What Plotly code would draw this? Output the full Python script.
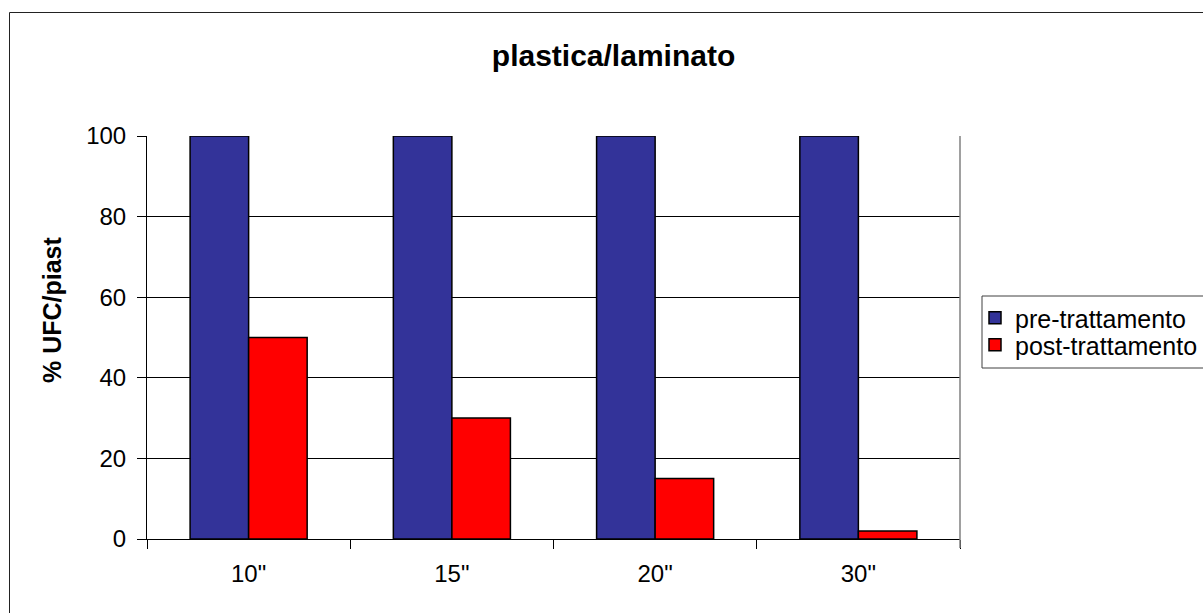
import plotly.graph_objects as go

# Data
categories = ['10"', '15"', '20"', '30"']
pre_trattamento = [100, 100, 100, 100]
post_trattamento = [50, 30, 15, 2]
y_ticks = [0, 20, 40, 60, 80, 100]

W, H = 1203, 613
# plot area in pixels
L, R, T, B = 147, 960, 136, 539
pw, ph = R - L, B - T


def px(x):
    return (x - L) / pw


def py(y):
    return (B - y) / ph


FONT = "Liberation Sans, Arial, sans-serif"
LEG_FONT = dict(family=FONT, size=25, color="black")

fig = go.Figure()
fig.add_trace(go.Bar(
    x=categories, y=pre_trattamento, name="pre-trattamento",
    marker=dict(color="#333399", line=dict(color="black", width=1.5)),
    legend="legend",
))
fig.add_trace(go.Bar(
    x=categories, y=post_trattamento, name="post-trattamento",
    marker=dict(color="#FF0000", line=dict(color="black", width=1.5)),
    legend="legend2",
))

fig.update_layout(
    width=W, height=H,
    margin=dict(l=L, r=W - R, t=T, b=H - B, autoexpand=False),
    paper_bgcolor="white", plot_bgcolor="white",
    barmode="group", bargap=0.424, bargroupgap=0,
    font=dict(family=FONT, size=24, color="black"),
    title=dict(text="<b>plastica/laminato</b>", x=0.51, xref="container",
               xanchor="center", y=1 - 55 / H, yref="container", yanchor="middle",
               font=dict(family=FONT, size=30, color="black")),
    showlegend=True,
    legend=dict(x=px(975), xanchor="left", y=py(318), yanchor="middle",
                bgcolor="rgba(0,0,0,0)", borderwidth=0, font=LEG_FONT),
    legend2=dict(x=px(975), xanchor="left", y=py(345), yanchor="middle",
                 bgcolor="rgba(0,0,0,0)", borderwidth=0, font=LEG_FONT),
    xaxis=dict(showline=True, linecolor="black", linewidth=1,
               ticks="outside", tickson="boundaries", ticklen=9,
               tickcolor="black", tickwidth=1, showgrid=False,
               ticklabelstandoff=13,
               tickfont=dict(family=FONT, size=24, color="black")),
    yaxis=dict(range=[0, 100], tickvals=y_ticks, showline=True,
               linecolor="black", linewidth=1, ticks="outside", ticklen=9,
               tickcolor="black", tickwidth=1, showgrid=True,
               gridcolor="black", gridwidth=1, zeroline=False,
               ticklabelstandoff=6,
               tickfont=dict(family=FONT, size=24, color="black")),
    shapes=[
        # chart border
        dict(type="rect", xref="paper", yref="paper",
             x0=px(9.5), x1=px(1215), y0=py(625), y1=py(12.5),
             line=dict(color="#222222", width=1), layer="below"),
        # plot area right edge
        dict(type="line", xref="paper", yref="paper",
             x0=1, x1=1, y0=py(548), y1=1,
             line=dict(color="#808080", width=1.5)),
        # legend frame
        dict(type="rect", xref="paper", yref="paper",
             x0=px(982), x1=px(1215), y0=py(368), y1=py(296),
             line=dict(color="#404040", width=1)),
    ],
    annotations=[
        dict(text="<b>% UFC/piast</b>", xref="paper", yref="paper",
             x=px(52), y=py(310), textangle=-90, showarrow=False,
             xanchor="center", yanchor="middle",
             font=dict(family=FONT, size=25, color="black")),
    ],
)

fig.write_html("out.html")
